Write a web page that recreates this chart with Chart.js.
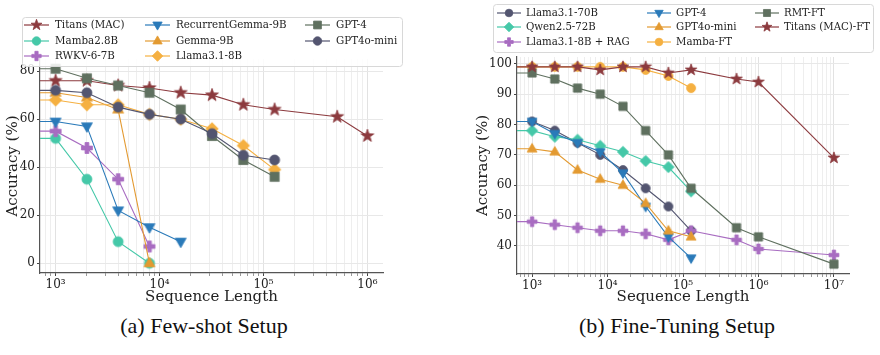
<!DOCTYPE html>
<html><head><meta charset="utf-8">
<script src="https://cdn.jsdelivr.net/npm/chart.js@4.4.0/dist/chart.umd.min.js"></script>
<style>
html,body{margin:0;padding:0;background:#fff;width:880px;height:355px;overflow:hidden;}
canvas{position:absolute;top:0;}
#cA{left:0;}
#cB{left:440px;}
.cap{position:absolute;top:313px;font-family:'Liberation Serif',serif;font-size:22px;color:#111;text-align:center;width:440px;white-space:nowrap;}
</style></head>
<body>
<canvas id="cA" width="440" height="310"></canvas>
<canvas id="cB" width="440" height="310"></canvas>
<div class="cap" style="left:-16px">(a) Few-shot Setup</div>
<div class="cap" style="left:457px">(b) Fine-Tuning Setup</div>
<script>
// ---------------- DATA ----------------
// (a) Few-shot setup
const fewShotLengths = [1000, 2000, 4000, 8000, 16000, 32000, 64000, 128000, 512000, 1000000];
const fewShotModels = ['Titans (MAC)', 'Mamba2.8B', 'RWKV-6-7B', 'RecurrentGemma-9B', 'Gemma-9B', 'Llama3.1-8B', 'GPT-4', 'GPT4o-mini'];
const titansMAC = [76, 76, 74, 73, 71, 70, 66, 64, 61, 53];
const mamba28B = [52, 35, 9, 0];
const rwkv67B = [55, 48, 35, 7];
const recurrentGemma9B = [59, 57, 22, 15, 9];
const gemma9B = [71, 69, 64, 0];
const llama318B = [68, 66, 66, 62, 60, 56, 49, 39];
const gpt4Few = [81, 77, 74, 71, 64, 53, 43, 36];
const gpt4oMiniFew = [72, 71, 65, 62, 60, 54, 45, 43];
const fewShotValues = [titansMAC, mamba28B, rwkv67B, recurrentGemma9B, gemma9B, llama318B, gpt4Few, gpt4oMiniFew];
const fewShotYTicks = [0, 20, 40, 60, 80];

// (b) Fine-tuning setup
const fineTuneLengths = [1000, 2000, 4000, 8000, 16000, 32000, 64000, 128000, 512000, 1000000, 10000000];
const fineTuneModels = ['Llama3.1-70B', 'Qwen2.5-72B', 'Llama3.1-8B + RAG', 'GPT-4', 'GPT4o-mini', 'Mamba-FT', 'RMT-FT', 'Titans (MAC)-FT'];
const llama3170B = [81, 78, 74, 70, 65, 59, 53, 45];
const qwen2572B = [78, 76, 75, 73, 71, 68, 66, 58];
const llama318BRAG = [48, 47, 46, 45, 45, 44, 42, 45, 42, 39, 37];
const gpt4FT = [81, 77, 74, 71, 64, 53, 43, 36];
const gpt4oMiniFT = [72, 71, 65, 62, 60, 54, 45, 43];
const mambaFT = [99, 99, 99, 99, 99, 98, 96, 92];
const rmtFT = [97, 95, 92, 90, 86, 78, 70, 59, 46, 43, 34];
const titansMACFT = [99, 99, 99, 98, 99, 99, 97, 98, 95, 94, 69];
const fineTuneValues = [llama3170B, qwen2572B, llama318BRAG, gpt4FT, gpt4oMiniFT, mambaFT, rmtFT, titansMACFT];
const fineTuneYTicks = [40, 50, 60, 70, 80, 90, 100];

// ---------------- STYLES ----------------
const C = {
  maroon: '#8c3a3e', teal: '#45c8a8', purple: '#a86cc1', blue: '#2a7ab9',
  orange: '#e39a31', gold: '#f5b041', green: '#5f705f', slate: '#535570'
};
const fewShotStyles = [
  {color: C.maroon, shape: 'star'}, {color: C.teal, shape: 'circle'}, {color: C.purple, shape: 'plus'},
  {color: C.blue, shape: 'tri_down'}, {color: C.orange, shape: 'tri_up'}, {color: C.gold, shape: 'diamond'},
  {color: C.green, shape: 'square'}, {color: C.slate, shape: 'circle'}
];
const fineTuneStyles = [
  {color: C.slate, shape: 'circle'}, {color: C.teal, shape: 'diamond'}, {color: C.purple, shape: 'plus'},
  {color: C.blue, shape: 'tri_down'}, {color: C.orange, shape: 'tri_up'}, {color: C.gold, shape: 'circle'},
  {color: C.green, shape: 'square'}, {color: C.maroon, shape: 'star'}
];
const FONT = "'DejaVu Serif', serif";

function drawShape(ctx, shape, cx, cy, s, color) {
  ctx.save();
  ctx.fillStyle = color; ctx.strokeStyle = color; ctx.lineWidth = 0.8; ctx.lineJoin = 'miter';
  ctx.beginPath();
  if (shape === 'circle') {
    ctx.arc(cx, cy, s, 0, Math.PI * 2);
  } else if (shape === 'square') {
    const h = s * 0.92; ctx.rect(cx - h, cy - h, 2 * h, 2 * h);
  } else if (shape === 'diamond') {
    const h = s * 1.25;
    ctx.moveTo(cx, cy - h); ctx.lineTo(cx + h, cy); ctx.lineTo(cx, cy + h); ctx.lineTo(cx - h, cy); ctx.closePath();
  } else if (shape === 'tri_up' || shape === 'tri_down') {
    const d = shape === 'tri_up' ? 1 : -1;
    ctx.moveTo(cx, cy - d * s * 1.2); ctx.lineTo(cx + s * 1.1, cy + d * s * 0.7); ctx.lineTo(cx - s * 1.1, cy + d * s * 0.7); ctx.closePath();
  } else if (shape === 'star') {
    const R = s * 1.35, r = R * 0.4;
    for (let k = 0; k < 10; k++) {
      const rr = k % 2 === 0 ? R : r;
      const a = -Math.PI / 2 + k * Math.PI / 5;
      const px = cx + rr * Math.cos(a), py = cy + rr * Math.sin(a);
      k === 0 ? ctx.moveTo(px, py) : ctx.lineTo(px, py);
    }
    ctx.closePath();
  } else if (shape === 'plus') {
    const L = s * 1.1, t = s * 0.38;
    ctx.moveTo(cx - t, cy - L); ctx.lineTo(cx + t, cy - L); ctx.lineTo(cx + t, cy - t); ctx.lineTo(cx + L, cy - t);
    ctx.lineTo(cx + L, cy + t); ctx.lineTo(cx + t, cy + t); ctx.lineTo(cx + t, cy + L); ctx.lineTo(cx - t, cy + L);
    ctx.lineTo(cx - t, cy + t); ctx.lineTo(cx - L, cy + t); ctx.lineTo(cx - L, cy - t); ctx.lineTo(cx - t, cy - t); ctx.closePath();
  }
  ctx.fill(); ctx.stroke();
  ctx.restore();
}
function markerCanvas(shape, color, s) {
  const size = 2 * Math.ceil(s * 1.5) + 4;
  const cv = document.createElement('canvas');
  cv.width = size; cv.height = size;
  drawShape(cv.getContext('2d'), shape, size / 2, size / 2, s, color);
  return cv;
}

function buildDatasets(models, values, styles, xs, xmin, s) {
  return models.map((m, i) => {
    const vals = values[i];
    const pts = vals.map((v, j) => ({x: xs[j], y: v}));
    pts.unshift({x: xmin / 5, y: vals[0]}); // line runs in from the axis edge, as in the original
    return {
      label: m, data: pts,
      borderColor: styles[i].color, backgroundColor: styles[i].color,
      borderWidth: 1.1, tension: 0,
      pointStyle: markerCanvas(styles[i].shape, styles[i].color, s),
      pointRadius: 5, pointHoverRadius: 5,
      order: models.length - i,
      _shape: styles[i].shape, _s: s
    };
  });
}

const SUP = {'0':'⁰','1':'¹','2':'²','3':'³','4':'⁴','5':'⁵','6':'⁶','7':'⁷','8':'⁸','9':'⁹','-':'⁻'};
function isPow10(v) { const l = Math.log10(v); return Math.abs(l - Math.round(l)) < 1e-9; }
function logTicks(min, max) {
  const out = [];
  for (let e = Math.floor(Math.log10(min)); e <= Math.ceil(Math.log10(max)); e++) {
    for (let m = 1; m <= 9; m++) { const v = m * Math.pow(10, e); if (v >= min && v <= max) out.push({value: v, major: m === 1}); }
  }
  return out;
}

const boxLegend = {
  id: 'boxLegend',
  afterDraw(chart, args, o) {
    const ctx = chart.ctx;
    ctx.save();
    const b = o.box;
    ctx.beginPath();
    if (ctx.roundRect) ctx.roundRect(b.x + 0.5, b.y + 0.5, b.w, b.h, 3); else ctx.rect(b.x + 0.5, b.y + 0.5, b.w, b.h);
    ctx.fillStyle = 'rgba(255,255,255,0.85)'; ctx.fill();
    ctx.strokeStyle = '#d8d8d8'; ctx.lineWidth = 1; ctx.stroke();
    ctx.font = o.fontSize + 'px ' + FONT; ctx.textBaseline = 'middle'; ctx.fillStyle = '#222';
    chart.data.datasets.forEach((ds, i) => {
      const col = Math.floor(i / 3), row = i % 3;
      const x0 = o.cols[col], y = o.rows[row];
      ctx.beginPath(); ctx.strokeStyle = ds.borderColor; ctx.lineWidth = 1.2;
      ctx.moveTo(x0, y); ctx.lineTo(x0 + o.lineLen, y); ctx.stroke();
      drawShape(ctx, ds._shape, x0 + o.lineLen / 2, y, ds._s * 0.85, ds.borderColor);
      ctx.fillStyle = '#222';
      ctx.fillText(ds.label, x0 + o.textOff, y + 0.5);
    });
    ctx.restore();
  }
};

function makeChart(id, cfg) {
  const xs = {
    type: 'logarithmic', min: cfg.xmin, max: cfg.xmax,
    afterBuildTicks: sc => { sc.ticks = logTicks(cfg.xmin, cfg.xmax); },
    afterFit: sc => { sc.height = cfg.xAxisH; },
    ticks: {
      autoSkip: false, maxRotation: 0, minRotation: 0, padding: 2, color: '#222',
      font: {family: FONT, size: 12},
      callback: v => isPow10(v) ? '10' + String(Math.round(Math.log10(v))).split('').map(c => SUP[c]).join('') : ''
    },
    grid: {
      color: c => (c.tick && isPow10(c.tick.value)) ? '#e2e2e2' : '#eeeeee',
      lineWidth: 1, tickLength: 3,
      tickColor: c => (c.tick && isPow10(c.tick.value)) ? '#444' : '#999'
    },
    border: {display: true, color: '#555', width: 1.2},
    title: {display: true, text: 'Sequence Length', color: '#222', font: {family: FONT, size: 15}, padding: {top: 0, bottom: 4}}
  };
  const ys = {
    type: 'linear', min: cfg.ymin, max: cfg.ymax,
    afterBuildTicks: sc => { sc.ticks = cfg.yTicks.map(v => ({value: v})); },
    afterFit: sc => { sc.width = cfg.yAxisW; },
    ticks: {padding: 2, color: '#222', font: {family: FONT, size: 12}},
    grid: {color: '#e8e8e8', lineWidth: 1, tickLength: 3, tickColor: '#444'},
    border: {display: true, color: '#555', width: 1.2},
    title: {display: true, text: 'Accuracy (%)', color: '#222', font: {family: FONT, size: 15}, padding: {top: 4, bottom: 4}}
  };
  return new Chart(document.getElementById(id), {
    type: 'line',
    data: {datasets: cfg.datasets},
    options: {
      responsive: false, animation: false, parsing: true,
      layout: {padding: cfg.padding},
      scales: {x: xs, y: ys},
      plugins: {legend: {display: false}, tooltip: {enabled: false}, boxLegend: cfg.legend}
    },
    plugins: [boxLegend]
  });
}

const fsMin = Math.pow(10, 2.85), fsMax = Math.pow(10, 6.15);
makeChart('cA', {
  xmin: fsMin, xmax: fsMax, ymin: -4.05, ymax: 85.05, yTicks: fewShotYTicks,
  xAxisH: 37, yAxisW: 40, padding: {left: 0, right: 57, top: 59, bottom: 0},
  datasets: buildDatasets(fewShotModels, fewShotValues, fewShotStyles, fewShotLengths, fsMin, 5),
  legend: {box: {x: 22, y: 17, w: 380, h: 49}, cols: [24, 145, 305], rows: [25, 41, 56], lineLen: 25, textOff: 31, fontSize: 10.3}
});
const ftMin = Math.pow(10, 2.8), ftMax = Math.pow(10, 7.2);
makeChart('cB', {
  xmin: ftMin, xmax: ftMax, ymin: 30.75, ymax: 102.25, yTicks: fineTuneYTicks,
  xAxisH: 36, yAxisW: 47, padding: {left: 30, right: 31, top: 57, bottom: 0},
  datasets: buildDatasets(fineTuneModels, fineTuneValues, fineTuneStyles, fineTuneLengths, ftMin, 4.5),
  legend: {box: {x: 53, y: 4, w: 380, h: 48}, cols: [57, 207, 315], rows: [13, 27, 42], lineLen: 24, textOff: 29, fontSize: 10.2}
});
</script>
</body></html>
